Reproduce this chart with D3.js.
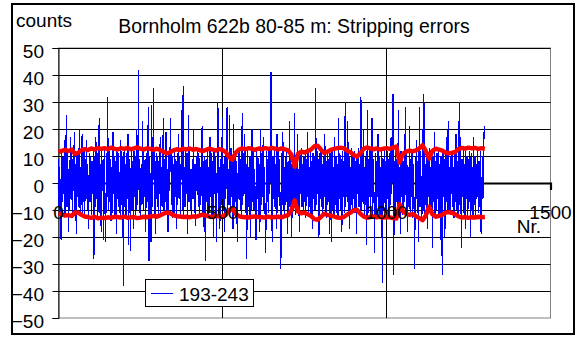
<!DOCTYPE html>
<html>
<head>
<meta charset="utf-8">
<script src="https://cdn.jsdelivr.net/npm/d3@7"></script>
<style>
  html, body { margin: 0; padding: 0; background: #fff; }
  svg { display: block; font-family: "Liberation Sans", Arial, sans-serif; }
</style>
</head>
<body>
<svg id="chart" width="582" height="338"></svg>
<script>
// ---------- DATA ----------
const title = "Bornholm 622b 80-85 m: Stripping errors";
const yTitle = "counts";
const xTitle = "Nr.";
const seriesName = "193-243";
const xTicks = [0, 500, 1000, 1500];
const yTicks = [-50, -40, -30, -20, -10, 0, 10, 20, 30, 40, 50];

// blue series: counts sampled every 2nd Nr. (Nr. 0 .. 1298)
const countStep = 2;
const counts = [
  9,-11,6,-17,-21,12,-7,10,-4,16,-12,8,25,-9,11,-18,5,-10,17,-6,12,-13,9,-3,19,
  -10,7,-19,11,-5,13,-9,20,-12,6,-8,18,-11,4,12,-13,9,-6,16,-10,3,-17,11,-7,10,
  -12,8,-4,13,-28,10,-9,17,-6,11,-13,5,24,-11,7,-18,12,-3,9,-21,13,-8,-22,11,-5,
  32,-10,12,-7,9,-14,6,-11,19,-4,10,-12,8,-19,13,-6,11,-9,4,-13,16,-8,10,-5,-38,
  12,-9,7,-13,11,-6,18,-23,9,5,-25,13,-10,8,-17,12,-5,10,-12,20,-8,6,42,-11,9,
  -13,7,-8,23,-10,12,-5,9,-18,11,-7,13,28,-29,10,-6,-22,29,-9,12,35,-12,8,-19,11,
  -6,10,-13,8,-4,17,-11,6,-9,13,24,-12,9,-7,19,-10,5,-18,11,-3,12,24,-8,10,-13,
  7,-11,13,-5,9,-17,11,-8,18,-6,10,-12,8,27,-10,36,-13,6,-9,12,-4,11,-19,25,-7,
  12,-10,5,-13,9,-6,20,-11,7,-16,10,-3,13,-9,11,-12,6,-8,14,21,-11,8,-18,10,-29,
  9,-7,12,-13,6,-10,17,-5,11,-12,8,-20,13,-4,10,-9,-22,12,30,-11,6,-17,9,-8,13,
  24,-10,7,-18,11,-6,9,28,-12,5,-8,25,-11,13,-5,10,-17,22,-9,12,-7,8,-13,-22,11,
  -6,12,-10,9,-13,26,-8,11,-4,18,-11,7,-28,13,-9,6,-12,10,-20,8,20,-7,12,-10,5,
  -9,-21,13,-6,10,-12,7,-18,20,-8,11,-5,17,-10,6,-13,-26,12,-7,9,-11,13,-4,8,41,
  -12,-22,10,-6,13,-9,7,-17,18,-11,12,-5,9,-13,-32,11,-8,19,-10,6,-12,10,-7,13,-19,
  8,-11,23,-9,12,-20,7,-13,10,-6,26,-12,9,-8,18,-10,5,-18,11,-4,13,-9,7,-12,10,
  -7,12,-13,9,-5,19,-11,6,-9,13,-12,8,-17,11,-6,10,-10,35,-8,12,-4,9,-20,11,-6,
  13,-9,7,-12,10,-5,18,-11,8,-13,12,-7,9,-19,11,-4,-22,13,-10,6,-12,17,-8,10,-11,
  7,-13,24,-6,11,-10,9,-18,12,-5,8,-11,30,-9,13,-7,23,-12,10,-17,6,-8,13,-10,11,
  -6,12,-11,8,-19,10,-4,13,-9,7,-12,32,-10,11,-7,20,-13,6,-8,12,-23,27,-11,9,-5,
  13,-10,7,24,-12,9,-6,-26,11,-13,8,-5,18,-9,10,-12,6,-20,12,-37,9,-7,13,-11,8,
  -10,12,-6,9,-13,11,-8,17,-4,10,33,-34,8,-11,13,-7,9,-12,27,-9,6,-19,12,-5,10,
  -12,8,-7,13,28,-10,11,-18,6,-9,21,-11,9,-5,12,-13,7,-8,-32,10,-6,16,-11,8,-22,
  28,-9,12,-6,-13,20,-10,33,-12,7,-8,11,-17,9,-5,13,-11,6,-9,12,-24,10,-7,19,-12,
  8,-10,11,-6,13,-13,7,-21,10,-8,-34,12,-5,9,-20,11,-7,17,-10,23,-11,6,-12,10,-4,
  12,-9,6,-13,11,-7,18,-10,8,-12,10,30,-8,17,-24,9,-5,13,-11,7,-17,12,-6,10,-13,
  9,-7,12,-20,11,-10,6,-12,17,-8,10,-13,7,-5,13,-11,8,-9,12,-18,-19,10,-6,11,21
];

// red series: upper and lower error limits, every 10th Nr. (Nr. 0 .. 1300)
const limitStep = 10;
const upperLimit = [
  11.4,11.9,12.3,11.8,12.4,10.8,11.2,12.1,12.6,12.2,
  12.8,12.4,13.0,12.6,12.9,12.5,13.1,12.7,12.4,12.9,
  12.6,13.0,12.5,12.8,13.2,12.7,12.4,12.9,12.6,12.3,
  12.7,12.2,11.6,11.0,11.4,12.1,12.5,12.2,12.7,12.4,
  12.8,12.3,12.6,12.2,11.8,12.3,12.7,12.4,12.0,12.6,
  12.2,11.5,9.6,8.6,11.2,12.4,12.8,12.5,12.9,12.6,
  12.3,12.8,12.5,12.9,12.6,13.0,12.7,12.4,12.8,12.5,
  12.1,10.5,6.0,10.8,11.6,11.3,11.8,12.4,13.6,13.8,
  12.4,11.1,11.6,12.3,12.6,12.9,13.1,12.8,12.0,11.4,
  10.4,9.7,11.0,12.6,13.2,12.8,12.5,12.8,12.4,12.7,
  12.9,12.6,13.2,13.5,7.6,10.8,11.6,12.0,11.7,12.1,
  12.8,14.0,11.8,9.0,11.9,12.7,12.4,12.0,11.3,11.0,
  11.2,11.5,12.6,13.0,12.7,13.1,12.8,13.0,12.6,12.9,
  12.7
];
const lowerLimit = [
  -11.2,-11.6,-12.1,-11.9,-12.2,-10.9,-11.0,-11.8,-12.4,-12.6,
  -12.9,-12.5,-13.1,-12.8,-13.0,-12.7,-12.9,-12.5,-12.6,-12.8,
  -12.4,-12.9,-12.7,-12.6,-13.0,-12.8,-12.5,-12.7,-12.4,-12.2,
  -12.5,-12.0,-11.4,-10.9,-11.2,-11.9,-12.3,-12.4,-12.6,-12.5,
  -12.7,-12.4,-12.5,-12.1,-11.7,-12.1,-12.5,-12.6,-12.2,-12.4,
  -12.3,-11.8,-10.2,-9.4,-11.4,-12.3,-12.6,-12.7,-12.8,-12.5,
  -12.4,-12.6,-12.7,-12.8,-12.4,-12.8,-12.6,-12.5,-12.7,-12.3,
  -11.9,-10.2,-6.4,-10.6,-11.2,-11.0,-11.6,-12.2,-13.4,-13.6,
  -12.6,-11.4,-11.8,-12.1,-12.4,-12.8,-12.9,-12.6,-11.7,-11.0,
  -10.1,-9.9,-11.3,-12.4,-12.9,-12.6,-12.4,-12.7,-12.5,-12.8,
  -12.6,-12.7,-13.0,-13.2,-7.8,-10.6,-11.4,-11.8,-11.5,-12.3,
  -13.0,-13.8,-12.0,-8.7,-11.6,-12.5,-12.2,-11.8,-11.0,-10.8,
  -11.1,-11.6,-12.4,-12.8,-12.6,-12.9,-12.7,-12.8,-12.5,-12.7,
  -12.6
];

// ---------- LAYOUT ----------
const svg = d3.select("#chart");
const plot = { left: 58.5, right: 550.5, top: 48, bottom: 318 };
const x = d3.scaleLinear().domain([0, 1500]).range([plot.left, plot.right]);
const y = d3.scaleLinear().domain([-50, 50]).range([plot.bottom, plot.top]);
const FS = 19;

// outer frame
svg.append("rect").attr("x", 12).attr("y", 4).attr("width", 562).attr("height", 330)
  .attr("fill", "#fff").attr("stroke", "#000").attr("stroke-width", 2);

// plot area border (grey)
svg.append("rect").attr("x", plot.left).attr("y", plot.top)
  .attr("width", plot.right - plot.left).attr("height", plot.bottom - plot.top)
  .attr("fill", "none").attr("stroke", "#808080").attr("stroke-width", 1);

// horizontal gridlines
svg.append("g").selectAll("line").data(yTicks.filter(v => v !== -50)).join("line")
  .attr("x1", plot.left).attr("x2", plot.right)
  .attr("y1", d => Math.round(y(d)) + 0.5).attr("y2", d => Math.round(y(d)) + 0.5)
  .attr("stroke", "#000").attr("stroke-width", 1);

// vertical gridlines
svg.append("g").selectAll("line").data(xTicks.filter(v => v > 0 && v < 1500)).join("line")
  .attr("x1", d => x(d)).attr("x2", d => x(d))
  .attr("y1", plot.top).attr("y2", plot.bottom)
  .attr("stroke", "#000").attr("stroke-width", 1);

// y axis
const yAxis = d3.axisLeft(y).tickValues(yTicks).tickSize(6).tickFormat(d3.format("d"));
const gy = svg.append("g").attr("transform", `translate(${plot.left},0)`).call(yAxis);
gy.select(".domain").attr("stroke", "#000");
gy.selectAll(".tick line").attr("stroke", "#000");
gy.selectAll(".tick text").attr("font-size", FS).attr("fill", "#000")
  .attr("font-family", "Liberation Sans, Arial, sans-serif").attr("dy", null).attr("y", 9.3)
  .attr("x", -14.5);

// x axis line at y = 0 (behind the series)
const xAxis = d3.axisBottom(x).tickValues(xTicks).tickSize(7).tickFormat(d3.format("d"));
const gx = svg.append("g").attr("transform", `translate(0,${y(0)})`).call(xAxis);
gx.select(".domain").attr("stroke", "#000").attr("stroke-width", 2.2);
gx.selectAll(".tick line").attr("stroke", "#000").attr("stroke-width", 1.5);
gx.selectAll(".tick text").remove();

// series (blue)
const blueLine = d3.line().x((d, i) => x(i * countStep)).y(d => y(d));
svg.append("path").datum(counts).attr("d", blueLine)
  .attr("fill", "none").attr("stroke", "#0000ff").attr("stroke-width", 1.15)
  .attr("shape-rendering", "crispEdges");

// red limits
const redLine = d3.line().x((d, i) => x(i * limitStep)).y(d => y(d));
[upperLimit, lowerLimit].forEach(arr => {
  svg.append("path").datum(arr).attr("d", redLine)
    .attr("fill", "none").attr("stroke", "#ff0000").attr("stroke-width", 4.4)
    .attr("stroke-linejoin", "round");
});

// x tick labels (drawn on top)
svg.append("g").selectAll("text").data(xTicks).join("text")
  .attr("x", d => x(d)).attr("y", y(0) + 35.5)
  .attr("text-anchor", "middle").attr("font-size", FS).attr("fill", "#000")
  .text(d => d3.format("d")(d));

// axis titles
svg.append("text").attr("x", 541).attr("y", 233).attr("text-anchor", "end")
  .attr("font-size", FS).text(xTitle);
svg.append("text").attr("x", 16).attr("y", 27).attr("font-size", FS).text(yTitle);

// chart title
svg.append("text").attr("x", 294).attr("y", 33).attr("text-anchor", "middle")
  .attr("font-size", 19.4).text(title);

// legend
const lg = svg.append("g");
lg.append("rect").attr("x", 145.5).attr("y", 279.5).attr("width", 108).attr("height", 27)
  .attr("fill", "#fff").attr("stroke", "#000").attr("stroke-width", 1);
lg.append("line").attr("x1", 151).attr("x2", 173).attr("y1", 293.5).attr("y2", 293.5)
  .attr("stroke", "#0000ff").attr("stroke-width", 1);
lg.append("text").attr("x", 179).attr("y", 300.5).attr("font-size", FS).text(seriesName);
</script>
</body>
</html>
